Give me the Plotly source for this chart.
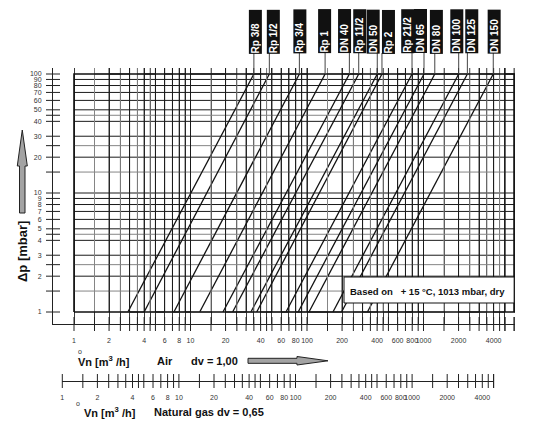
"""Druckverlust-Diagramm (Plotly) - Nomogramm Luft / Erdgas"""
import numpy as np
import plotly.graph_objects as go

FONT = "Liberation Sans, Arial, Helvetica, sans-serif"
TICK_FONT = "Liberation Sans Narrow, Arial Narrow, Liberation Sans, sans-serif"
W, H = 533, 428
PAGE = 8   # body margin of the html page

# ---- data ----
valve_names = ["Rp 3/8", "Rp 1/2", "Rp 3/4", "Rp 1", "DN 40", "Rp 11/2", "DN 50",
               "Rp 2", "Rp 21/2", "DN 65", "DN 80", "DN 100", "DN 125", "DN 150"]
flow_at_1mbar = [2.9, 4.0, 7.2, 12, 19, 23, 33, 37, 66, 84, 104, 167, 198, 330]
flow_at_100mbar = [35, 47.5, 86, 143, 231, 278, 401, 440, 797, 1010, 1250, 2005, 2380, 3970]

grid_steps = [1, 1.5, 2, 2.5, 3, 3.5, 4, 4.5, 5, 6, 7, 8, 9]
grid_decades = [1, 10, 100, 1000]
flow_grid = [s * d for d in grid_decades for s in grid_steps if s * d > 1] + [5000]
flow_edge = 6000
flow_labels = [1, 2, 4, 6, 8, 10, 20, 40, 60, 80, 100, 200, 400, 600, 800, 1000, 2000, 4000]

dp_grid = [1.5, 2, 2.5, 3, 4, 4.5, 5, 6, 7, 8, 9, 10, 15, 20, 25, 30, 40, 45,
           50, 60, 70, 80, 90]
dp_box = [1, 100]
dp_labels = [1, 2, 3, 4, 5, 6, 7, 8, 9, 10, 20, 30, 40, 50, 60, 70, 80, 90, 100]

# ---- layout geometry (screen pixels) ----
PLOT_L, PLOT_R = 53, 515
PLOT_T, PLOT_B = 68, 381          # paper area (main chart + gas scale)
MAIN_B = 324
X1_PX, X_DEC = 74, 116.5          # px of 1 m3/h, px per decade
Y1_PX, Y_DEC = 312, 119
G1_PX, G_DEC = 62.3, 116.6        # natural gas scale
G_L, G_R = 62, 493.6

x_range = [(PLOT_L - X1_PX) / X_DEC, (PLOT_R - X1_PX) / X_DEC]
y_range = [(Y1_PX - MAIN_B) / Y_DEC, (Y1_PX - PLOT_T) / Y_DEC]
g_range = [(G_L - G1_PX) / G_DEC, (G_R - G1_PX) / G_DEC]

# label box offsets against connector (px)
label_shift = [1, 3.5, 0, -1, -5.3, 0.5, -4.6, 6, -4.8, -4, 1.1, -2.4, 3.9, 0.4]
half_steps = {1.5, 2.5, 3.5, 4.5}
DARK, GRAY = "#1a1a1a", "#858585"


def px(x):
    return (x - PLOT_L) / (PLOT_R - PLOT_L)


def py(y):
    return (PLOT_B - y) / (PLOT_B - PLOT_T)


def is_half(v):
    return round(float(v) / 10 ** int(np.floor(np.log10(v) + 1e-9)), 2) in half_steps


def add_lines(xs, ys, color, width=1.0):
    X, Y = [], []
    for a, b in zip(xs, ys):
        X += [a[0], a[1], None]
        Y += [b[0], b[1], None]
    fig.add_trace(go.Scatter(x=X, y=Y, mode="lines", hoverinfo="skip",
                             line=dict(color=color, width=width, simplify=False)))


fig = go.Figure()
y_bot = 10 ** y_range[0]
y_top = 10 ** y_range[1]
x_left = 10 ** x_range[0]

# horizontal grid
for col, sel in ((GRAY, True), (DARK, False)):
    vals = [v for v in dp_grid if is_half(v) == sel]
    add_lines([(1, flow_edge)] * len(vals), [(v, v) for v in vals], col)

# valve characteristic lines
add_lines(list(zip(flow_at_1mbar, flow_at_100mbar)), [(1, 100)] * len(valve_names),
          "#111", 1.3)

# vertical grid: one zig-zag path per colour (joins lie on the frame lines)
for col, sel in ((GRAY, True), (DARK, False)):
    vals = [v for v in flow_grid if is_half(v) == sel]
    X, Y = [], []
    for i, v in enumerate(vals):
        X += [v, v]
        Y += dp_box if i % 2 == 0 else dp_box[::-1]
    fig.add_trace(go.Scatter(x=X, y=Y, mode="lines", hoverinfo="skip",
                             line=dict(color=col, width=1, simplify=False)))
    # short ends sticking out above the frame
    add_lines([(v, v) for v in vals], [(dp_box[1], y_top)] * len(vals), col)

# frame
fig.add_trace(go.Scatter(x=[1, flow_edge, flow_edge, 1, 1],
                         y=[dp_box[0], dp_box[0], dp_box[1], dp_box[1], dp_box[0]],
                         mode="lines", hoverinfo="skip", line=dict(color="#111", width=1.6)))

# axis ticks (crossing the axis lines)
tick_marker = dict(symbol="line-ns", size=10, line=dict(width=1, color="#222"))
air_ticks = [1] + flow_grid + [flow_edge]
fig.add_trace(go.Scatter(x=air_ticks, y=[y_bot] * len(air_ticks), mode="markers",
                         marker=tick_marker, cliponaxis=False, hoverinfo="skip"))
dp_ticks = dp_box[:1] + dp_grid + dp_box[1:]
fig.add_trace(go.Scatter(x=[x_left] * len(dp_ticks), y=dp_ticks,
                         mode="markers", cliponaxis=False, hoverinfo="skip",
                         marker=dict(symbol="line-ew", size=10, line=dict(width=1, color="#222"))))
gas_ticks = [1] + flow_grid
fig.add_trace(go.Scatter(x=gas_ticks, y=[0] * len(gas_ticks),
                         xaxis="x2", yaxis="y2", mode="markers",
                         marker=tick_marker, cliponaxis=False, hoverinfo="skip"))

tick_font = dict(family=TICK_FONT, size=7, color="#333")
axis_common = dict(type="log", showline=True, linecolor="#222", linewidth=1,
                   showgrid=False, zeroline=False, ticks="", tickfont=tick_font,
                   tickmode="array", tickangle=0, fixedrange=True)

# x axis: labelled ticks only at the printed values, but grid at every grid value
x_tickvals = [1] + flow_grid
x_ticktext = [str(v) if v in flow_labels else "" for v in x_tickvals]

fig.update_layout(
    width=W - PAGE, height=H - PAGE,
    margin=dict(l=PLOT_L - PAGE, r=W - PLOT_R, t=PLOT_T - PAGE, b=H - PLOT_B, pad=0),
    paper_bgcolor="white", plot_bgcolor="white",
    showlegend=False,
    font=dict(family=FONT, color="#111"),
    xaxis=dict(axis_common, range=x_range, anchor="y",
               tickvals=x_tickvals, ticktext=x_ticktext,
               showgrid=True, gridcolor="#3a3a3a", gridwidth=1,
               ticklabelstandoff=10),
    yaxis=dict(axis_common, range=y_range, anchor="x",
               domain=[(PLOT_B - MAIN_B) / (PLOT_B - PLOT_T), 1],
               tickvals=dp_labels, ticktext=[str(v) for v in dp_labels],
               ticklabelstandoff=9),
    xaxis2=dict(axis_common, range=g_range, anchor="y2",
                domain=[px(G_L), px(G_R)],
                tickvals=flow_labels, ticktext=[str(v) for v in flow_labels],
                ticklabelstandoff=10),
    yaxis2=dict(range=[0, 1], domain=[0, 0.02], anchor="x2", visible=False,
                fixedrange=True),
)

# connectors and valve labels
for name, f100, sh in zip(valve_names, flow_at_100mbar, label_shift):
    fig.add_shape(type="line", xref="x", yref="paper",
                  x0=f100, x1=f100, y0=py(74), y1=py(53),
                  line=dict(color="#444", width=1))
    fig.add_annotation(x=np.log10(f100), xref="x", xshift=sh, y=py(31.5), yref="paper",
                       xanchor="center", yanchor="middle", text=f"<b>{name}</b>",
                       textangle=-90, showarrow=False, bgcolor="#111",
                       width=43, height=12, borderpad=0, align="left",
                       font=dict(family=FONT, size=10, color="white"))

# white strip between frame and axis line (hides the axis grid there)
fig.add_shape(type="rect", xref="paper", yref="paper",
              x0=px(PLOT_L + 1), x1=1, y0=py(MAIN_B - 0.5), y1=py(Y1_PX + 1),
              fillcolor="white", line=dict(width=0), layer="below")

# note box
fig.add_shape(type="rect", xref="paper", yref="paper",
              x0=px(344), x1=px(X1_PX + np.log10(flow_edge) * X_DEC),
              y0=py(303), y1=py(277), fillcolor="white", line=dict(color="#111", width=1))
fig.add_annotation(x=px(348), y=py(291), xref="paper", yref="paper",
                   xanchor="left", yanchor="middle", showarrow=False,
                   text="<b>Based on \u00a0\u00a0+ 15 °C, 1013 mbar, dry</b>",
                   font=dict(size=9.5, color="#111"))

# y title and arrow
fig.add_annotation(x=px(22), y=py(252), xref="paper", yref="paper", showarrow=False,
                   xanchor="center", yanchor="middle",
                   text="<b>Δp [mbar]</b>", textangle=-90, font=dict(size=13, color="#111"))
arrow_y = [(19.5, 213), (19.5, 166), (17.3, 166), (22.3, 130), (27.3, 166), (25, 166), (25, 213)]
fig.add_shape(type="path", xref="paper", yref="paper",
              path="M " + " L ".join(f"{px(a):.4f},{py(b):.4f}" for a, b in arrow_y) + " Z",
              fillcolor="#a3a3a3", line=dict(color="#222", width=1))


# x titles
def title(x, y, text, size=11):
    fig.add_annotation(x=px(x), y=py(y), xref="paper", yref="paper", xanchor="left",
                       yanchor="middle", showarrow=False, text=f"<b>{text}</b>",
                       font=dict(size=size, color="#111"))


title(76, 361, "Vn [m<sup>3</sup> /h]")
title(155, 361, "Air")
title(189, 361, "dv = 1,00")
title(81.5, 412, "Vn [m<sup>3</sup> /h]")
title(152, 412, "Natural gas dv = 0,65")
for cx, cy in [(79.5, 351), (78, 403)]:
    fig.add_annotation(x=px(cx), y=py(cy), xref="paper", yref="paper", showarrow=False,
                       xanchor="center", yanchor="middle",
                       text="o", font=dict(size=7, color="#333"))

arrow_x = [(248, 358.3), (297, 358.3), (297, 356.5), (328, 360.8), (297, 365), (297, 363.3), (248, 363.3)]
fig.add_shape(type="path", xref="paper", yref="paper",
              path="M " + " L ".join(f"{px(a):.4f},{py(b):.4f}" for a, b in arrow_x) + " Z",
              fillcolor="#a3a3a3", line=dict(color="#222", width=1))

fig.write_html("out.html")
